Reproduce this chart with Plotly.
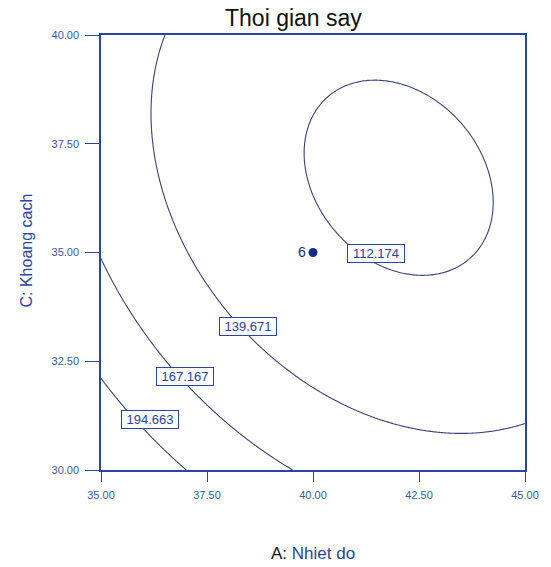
import numpy as np
import plotly.graph_objects as go

# Response-surface model for drying time, in coded units
# a = (Nhiet do - 40) / 5, c = (Khoang cach - 35) / 5
# terms: 1, a, c, a*c, a^2, c^2
model_terms = ["1", "A", "C", "AC", "A2", "C2"]
model_coef = [116.288, -24.695, -22.201, 12.626, 25.188, 24.876]

a_center, a_step = 40.0, 5.0
c_center, c_step = 35.0, 5.0

contour_levels = [112.174, 139.671, 167.167, 194.663]
# label anchor points (Nhiet do, Khoang cach) for each contour level
label_x = [41.49, 38.47, 36.99, 36.15]
label_y = [34.97, 33.29, 32.16, 31.15]

# design centre point and its replicate count
center_x = [40.0]
center_y = [35.0]
center_n = ["6"]

tick_vals = [35.0, 37.5, 40.0, 42.5, 45.0]
tick_vals_y = [30.0, 32.5, 35.0, 37.5, 40.0]

AXIS_BLUE = "#2a44a0"
TICK_BLUE = "#3d58a8"
LINE_COL = "#3a4278"
FONT = "Liberation Sans, Arial, sans-serif"

A = np.linspace(35, 45, 301)
C = np.linspace(30, 40, 301)
AA, CC = np.meshgrid(A, C)
a = (AA - a_center) / a_step
c = (CC - c_center) / c_step
b = model_coef
Z = b[0] + b[1]*a + b[2]*c + b[3]*a*c + b[4]*a**2 + b[5]*c**2

fig = go.Figure()
for lev in contour_levels:
    fig.add_trace(go.Contour(
        x=A, y=C, z=Z,
        autocontour=False,
        contours=dict(coloring="lines", start=lev, end=lev, size=1),
        line=dict(color=LINE_COL, width=1.1, smoothing=1),
        colorscale=[[0, LINE_COL], [1, LINE_COL]],
        showscale=False, hoverinfo="skip",
    ))

fig.add_trace(go.Scatter(
    x=center_x, y=center_y, mode="markers",
    marker=dict(size=9, color="#1a2a8c"), showlegend=False, hoverinfo="skip",
))

annotations = []
for lev, lx, ly in zip(contour_levels, label_x, label_y):
    annotations.append(dict(
        x=lx, y=ly, xref="x", yref="y", text=f"{lev:.3f}", showarrow=False,
        font=dict(family=FONT, size=13, color=AXIS_BLUE),
        bgcolor="white", bordercolor=AXIS_BLUE, borderwidth=1, borderpad=1,
        width=54, height=15,
    ))
for px, py, n in zip(center_x, center_y, center_n):
    annotations.append(dict(
        x=px, y=py, xref="x", yref="y", text=n, showarrow=False,
        xanchor="right", xshift=-5, yshift=1,
        font=dict(family=FONT, size=14, color="#1a2a8c"),
    ))

# chart title
annotations.append(dict(
    x=(295 - 101) / 427, y=1 + (35 - 18) / 435, xref="paper", yref="paper",
    text="Thoi gian say", showarrow=False, yanchor="middle",
    font=dict(family=FONT, size=23, color="#111111"),
))
# axis titles
annotations.append(dict(
    x=(315 - 101) / 427, y=-(553 - 470) / 435, xref="paper", yref="paper",
    text="A: <span style='color:" + AXIS_BLUE + "'>Nhiet do</span>", showarrow=False,
    font=dict(family=FONT, size=17, color="#111111"), yanchor="middle",
))
annotations.append(dict(
    x=-(101 - 25) / 427, y=(470 - 251) / 435, xref="paper", yref="paper",
    text="C: Khoang cach", showarrow=False, textangle=-90,
    font=dict(family=FONT, size=16, color=AXIS_BLUE), xanchor="center", yanchor="middle",
))

fig.update_layout(
    width=551, height=567,
    margin=dict(l=101, r=23, t=35, b=97, pad=0),
    plot_bgcolor="white", paper_bgcolor="white",
    showlegend=False,
    annotations=annotations,
)
fig.update_xaxes(
    range=[35, 45], tickvals=tick_vals, ticktext=[f"{v:.2f}" for v in tick_vals],
    showgrid=False, zeroline=False, showline=True, mirror=True,
    linecolor=AXIS_BLUE, linewidth=1.5, ticks="outside", ticklen=10, tickwidth=1.2,
    tickcolor=AXIS_BLUE, ticklabelstandoff=4,
    tickfont=dict(family=FONT, size=11, color=TICK_BLUE),
)
fig.update_yaxes(
    range=[30, 40], tickvals=tick_vals_y, ticktext=[f"{v:.2f}" for v in tick_vals_y],
    showgrid=False, zeroline=False, showline=True, mirror=True,
    linecolor=AXIS_BLUE, linewidth=1.5, ticks="outside", ticklen=14, tickwidth=1.2,
    tickcolor=AXIS_BLUE, ticklabelstandoff=4,
    tickfont=dict(family=FONT, size=11, color=TICK_BLUE),
)

fig.write_html("out.html")
